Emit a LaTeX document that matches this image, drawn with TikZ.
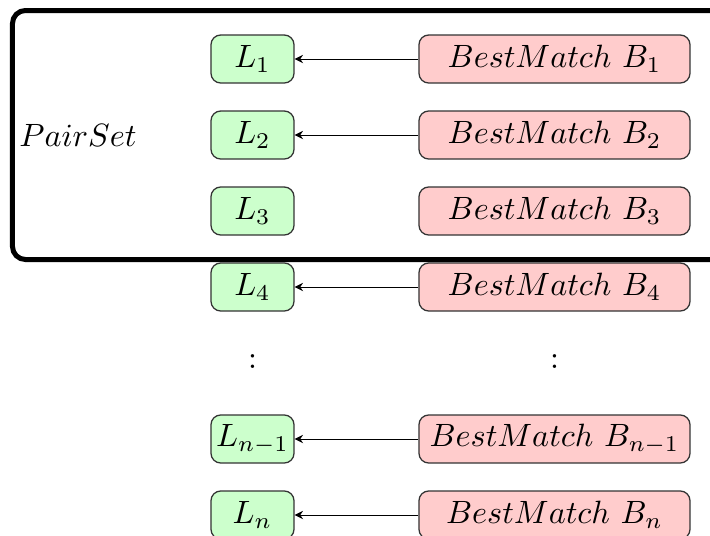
\documentclass[tikz,border=0pt]{standalone}
\usetikzlibrary{arrows.meta}
\begin{document}
\begin{tikzpicture}[x=0.31pt, y=-0.31pt,
  lbox/.style={draw=black!80, fill=green!20, rounded corners=3pt, line width=0.4pt,
    minimum width=83*0.31pt, minimum height=48*0.31pt, inner sep=0pt},
  bbox/.style={draw=black!80, fill=red!20, rounded corners=3pt, line width=0.4pt,
    minimum width=271*0.31pt, minimum height=48*0.31pt, inner sep=0pt},
  link/.style={-{Stealth[length=2.6pt,width=2.6pt]}, line width=0.3pt},
  setframe/.style={line width=1.55pt, rounded corners=4pt}]
  \useasboundingbox (0,0) rectangle (710,536);
  \clip (0,0) rectangle (710,536);

  % rows of list entries and their best matches
  \node[lbox] (l1) at (252.5,59)  {$L_1$};
  \node[lbox] (l2) at (252.5,135) {$L_2$};
  \node[lbox] (l3) at (252.5,211) {$L_3$};
  \node[lbox] (l4) at (252.5,287) {$L_4$};
  \node[lbox] (ln1) at (252.5,439) {$L_{n-1}$};
  \node[lbox] (ln) at (252.5,515) {$L_n$};

  \node[bbox] (b1) at (554.5,59)  {$BestMatch\ B_1$};
  \node[bbox] (b2) at (554.5,135) {$BestMatch\ B_2$};
  \node[bbox] (b3) at (554.5,211) {$BestMatch\ B_3$};
  \node[bbox] (b4) at (554.5,287) {$BestMatch\ B_4$};
  \node[bbox] (bn1) at (554.5,439) {$BestMatch\ B_{n-1}$};
  \node[bbox] (bn) at (554.5,515) {$BestMatch\ B_n$};

  \node (ldots) at (252.5,362) {$:$};
  \node (bdots) at (554.5,362) {$:$};

  \draw[link] (b1) -- (l1);
  \draw[link] (b2) -- (l2);
  \draw[link] (b4) -- (l4);
  \draw[link] (bn1) -- (ln1);
  \draw[link] (bn) -- (ln);

  % the pair set frame, open to the right
  \node (pairset) at (78,135) {$PairSet$};
  \draw[setframe] (12.5,10.5) rectangle (740,259.5);
\end{tikzpicture}
\end{document}
